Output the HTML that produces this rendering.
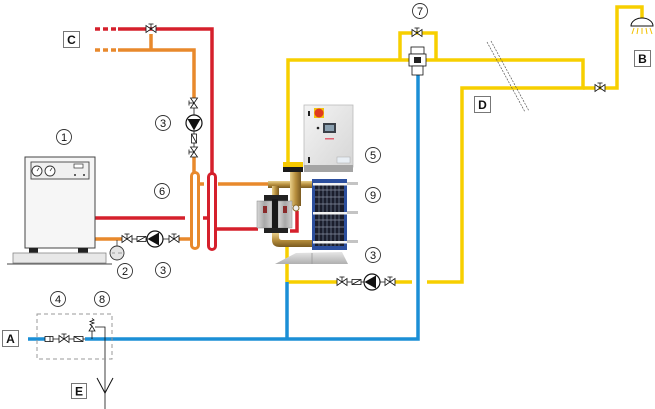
<!DOCTYPE html>
<html><head><meta charset="utf-8"><style>
html,body{margin:0;padding:0;background:#fff;}
svg{display:block;}
.lbl circle{fill:#fff;stroke:#333;stroke-width:0.9;}
.lbl text{font-family:"Liberation Sans",sans-serif;font-size:11px;fill:#111;text-anchor:middle;}
.box rect{fill:#fff;stroke:#777;stroke-width:1;}
.box text{font-family:"Liberation Sans",sans-serif;font-size:12px;font-weight:bold;fill:#111;text-anchor:middle;}
.v{fill:#fff;stroke:#111;stroke-width:0.8;}
</style></head><body>
<svg width="655" height="409" viewBox="0 0 655 409" xmlns="http://www.w3.org/2000/svg">
<defs>
<linearGradient id="gbox" x1="0" y1="0" x2="1" y2="1"><stop offset="0" stop-color="#f4f4f4"/><stop offset="1" stop-color="#d6d6d6"/></linearGradient>
<linearGradient id="gbrass" x1="0" y1="0" x2="0" y2="1"><stop offset="0" stop-color="#e8cf8a"/><stop offset="0.5" stop-color="#b8903e"/><stop offset="1" stop-color="#7a5a20"/></linearGradient>
<linearGradient id="gbrassv" x1="0" y1="0" x2="1" y2="0"><stop offset="0" stop-color="#e8cf8a"/><stop offset="0.5" stop-color="#b8903e"/><stop offset="1" stop-color="#7a5a20"/></linearGradient>
<linearGradient id="gpump" x1="0" y1="0" x2="1" y2="0"><stop offset="0" stop-color="#d8d8d8"/><stop offset="0.5" stop-color="#a8a8a8"/><stop offset="1" stop-color="#d0d0d0"/></linearGradient>
<linearGradient id="gstand" x1="0" y1="0" x2="0" y2="1"><stop offset="0" stop-color="#e6e6e6"/><stop offset="1" stop-color="#b0b0b0"/></linearGradient>
</defs>

<!-- RED top -->
<g stroke="#d5202c" stroke-width="3.5" fill="none">
<line x1="95" y1="29" x2="100" y2="29"/><line x1="103" y1="29" x2="108" y2="29"/><line x1="111" y1="29" x2="116" y2="29"/>
<polyline points="118,29 212,29 212,174"/>
<line x1="95" y1="218" x2="185" y2="218"/>
<line x1="203" y1="218" x2="208" y2="218"/>
<line x1="216" y1="229" x2="258" y2="229"/>
<polyline points="290,231 297,231 297,211"/>
</g>
<!-- ORANGE -->
<g stroke="#e8892c" stroke-width="3.5" fill="none">
<line x1="95" y1="50" x2="100" y2="50"/><line x1="103" y1="50" x2="108" y2="50"/><line x1="111" y1="50" x2="116" y2="50"/>
<polyline points="118,50 194,50 194,98"/>
<line x1="151" y1="50" x2="151" y2="34"/>
<line x1="194" y1="155" x2="194" y2="173"/>
<line x1="95" y1="239" x2="122" y2="239"/>
<line x1="179" y1="239" x2="191" y2="239"/>
<line x1="199" y1="184" x2="204" y2="184"/>
<line x1="218" y1="184" x2="268" y2="184"/>
</g>
<!-- separators -->
<rect x="191.5" y="172.5" width="7" height="76" rx="3.5" fill="#fff" stroke="#e8892c" stroke-width="3"/>
<rect x="208.5" y="173.5" width="7" height="76" rx="3.5" fill="#fff" stroke="#d5202c" stroke-width="3"/>

<!-- YELLOW -->
<g stroke="#f7cf00" stroke-width="3.5" fill="none">
<polyline points="288,162 288,60 583,60 583,88 462,88 462,282 427,282"/>
<polyline points="583,88 617,88 617,7 642,7 642,18"/>
<polyline points="400,60 400,33 436,33 436,60"/>
<line x1="287" y1="245" x2="287" y2="282"/>
<line x1="287" y1="282" x2="337" y2="282"/>
<line x1="395" y1="282" x2="412" y2="282"/>
</g>
<!-- BLUE -->
<g stroke="#1b8fd6" stroke-width="3.5" fill="none">
<polyline points="418,75 418,339 85,339"/>
<line x1="287" y1="282" x2="287" y2="339"/>
<line x1="28" y1="339" x2="45" y2="339"/>
</g>

<!-- break lines -->
<g stroke="#555" stroke-width="0.7" stroke-dasharray="2,1.2">
<line x1="487" y1="42" x2="525" y2="112"/><line x1="491" y1="41" x2="529" y2="111"/>
</g>

<!-- shower -->
<path d="M631,26 A11,8 0 0 1 653,26 Z" fill="#fff" stroke="#111" stroke-width="1"/>
<g stroke="#f2c200" stroke-width="1">
<line x1="634" y1="28" x2="632" y2="34"/><line x1="638" y1="28" x2="637" y2="34"/><line x1="642" y1="28" x2="642" y2="34"/><line x1="646" y1="28" x2="647" y2="34"/><line x1="650" y1="28" x2="652" y2="34"/>
</g>

<!-- boiler -->
<rect x="25" y="157" width="70" height="91" fill="#f6f6f6" stroke="#444" stroke-width="1"/>
<rect x="31" y="162" width="58" height="17" fill="#f0f0f0" stroke="#444" stroke-width="0.9"/>
<circle cx="37" cy="171" r="5" fill="#fff" stroke="#333" stroke-width="0.9"/>
<circle cx="50" cy="171" r="5" fill="#fff" stroke="#333" stroke-width="0.9"/>
<line x1="37" y1="171" x2="39" y2="168" stroke="#333" stroke-width="0.7"/>
<line x1="50" y1="171" x2="52" y2="168" stroke="#333" stroke-width="0.7"/>
<rect x="74" y="164" width="9" height="4" fill="#fff" stroke="#333" stroke-width="0.7"/>
<circle cx="75" cy="175" r="1" fill="#333"/><circle cx="84" cy="175" r="1" fill="#333"/>
<rect x="29" y="248" width="9" height="5" fill="#222"/><rect x="78" y="248" width="10" height="5" fill="#222"/>
<rect x="13" y="253" width="93" height="10" fill="#e8e8e8" stroke="#888" stroke-width="0.8"/>
<line x1="7" y1="264" x2="112" y2="264" stroke="#444" stroke-width="1"/>
<!-- expansion vessel -->
<line x1="117" y1="240" x2="117" y2="246" stroke="#333" stroke-width="0.8"/>
<circle cx="117" cy="253" r="7" fill="#e4e4e4" stroke="#333" stroke-width="0.9"/>
<line x1="112" y1="253" x2="115" y2="253" stroke="#888" stroke-width="0.8"/><line x1="118" y1="253" x2="122" y2="253" stroke="#888" stroke-width="0.8"/>

<!-- boiler pump line y239 -->
<line x1="122" y1="239" x2="179" y2="239" stroke="#111" stroke-width="0.8"/>
<g class="v">
<polygon points="122,235.5 122,242.5 127,239"/><polygon points="132,235.5 132,242.5 127,239"/>
<line x1="127" y1="239" x2="127" y2="234"/><line x1="124.5" y1="234" x2="129.5" y2="234"/>
<rect x="137" y="236.5" width="9" height="5"/><line x1="137" y1="241.5" x2="146" y2="236.5"/>
<circle cx="155" cy="239" r="8" stroke-width="1.2"/>
<polygon points="169,235.5 169,242.5 174,239"/><polygon points="179,235.5 179,242.5 174,239"/>
<line x1="174" y1="239" x2="174" y2="234"/><line x1="171.5" y1="234" x2="176.5" y2="234"/>
</g>
<polygon points="147.5,239 159,232.5 159,245.5" fill="#111"/>

<!-- vertical pump on x194 -->
<line x1="194" y1="98" x2="194" y2="155" stroke="#111" stroke-width="0.8"/>
<g class="v">
<polygon points="190.5,98 197.5,98 194,103"/><polygon points="190.5,108 197.5,108 194,103"/>
<line x1="194" y1="103" x2="189" y2="103"/><line x1="189" y1="100.5" x2="189" y2="105.5"/>
<circle cx="194" cy="123" r="8" stroke-width="1.2"/>
<rect x="191.5" y="134" width="5" height="9"/><line x1="191.5" y1="134" x2="196.5" y2="143"/>
<polygon points="190.5,147 197.5,147 194,152"/><polygon points="190.5,157 197.5,157 194,152"/>
<line x1="194" y1="152" x2="189" y2="152"/><line x1="189" y1="149.5" x2="189" y2="154.5"/>
</g>
<polygon points="194,130.5 187.5,119 200.5,119" fill="#111"/>

<!-- valve top at 151,29 -->
<g class="v">
<polygon points="146,25.5 146,32.5 151,29"/><polygon points="156,25.5 156,32.5 151,29"/>
<line x1="151" y1="29" x2="151" y2="24"/><line x1="148.5" y1="24" x2="153.5" y2="24"/>
</g>

<!-- bypass valve at 417,33 (7) -->
<g class="v">
<polygon points="412,29.5 412,36.5 417,33"/><polygon points="422,29.5 422,36.5 417,33"/>
<line x1="417" y1="33" x2="417" y2="28"/><line x1="414.5" y1="28" x2="419.5" y2="28"/>
</g>
<!-- mixer -->
<g class="v" stroke-width="0.9">
<rect x="411" y="47" width="13" height="7"/>
<rect x="409" y="54" width="17" height="12"/>
<rect x="412" y="66" width="11" height="9"/>
</g>
<rect x="414" y="57" width="7" height="6" fill="#222"/>

<!-- valve at 600,88 -->
<g class="v">
<polygon points="595,84.5 595,91.5 600,88"/><polygon points="605,84.5 605,91.5 600,88"/>
<line x1="600" y1="88" x2="600" y2="83"/><line x1="597.5" y1="83" x2="602.5" y2="83"/>
</g>

<!-- bottom pump y282 -->
<line x1="337" y1="282" x2="395" y2="282" stroke="#111" stroke-width="0.8"/>
<g class="v">
<polygon points="337,278.5 337,285.5 342,282"/><polygon points="347,278.5 347,285.5 342,282"/>
<line x1="342" y1="282" x2="342" y2="277"/><line x1="339.5" y1="277" x2="344.5" y2="277"/>
<rect x="352" y="279.5" width="9" height="5"/><line x1="352" y1="284.5" x2="361" y2="279.5"/>
<circle cx="372" cy="282" r="8" stroke-width="1.2"/>
<polygon points="385,278.5 385,285.5 390,282"/><polygon points="395,278.5 395,285.5 390,282"/>
<line x1="390" y1="282" x2="390" y2="277"/><line x1="387.5" y1="277" x2="392.5" y2="277"/>
</g>
<polygon points="364.5,282 376,275.5 376,288.5" fill="#111"/>

<!-- cold water inlet group -->
<line x1="45" y1="339" x2="85" y2="339" stroke="#111" stroke-width="0.8"/>
<g class="v">
<rect x="45" y="336.5" width="8" height="5"/><line x1="50" y1="336.5" x2="50" y2="341.5"/>
<polygon points="59,335.5 59,342.5 64,339"/><polygon points="69,335.5 69,342.5 64,339"/>
<line x1="64" y1="339" x2="64" y2="334"/><line x1="61.5" y1="334" x2="66.5" y2="334"/>
<rect x="74" y="336.5" width="9" height="5"/><line x1="74" y1="336.5" x2="83" y2="341.5"/>
</g>
<!-- safety valve 8 -->
<line x1="92" y1="339" x2="92" y2="331" stroke="#111" stroke-width="0.8"/>
<g class="v">
<polygon points="89,331 95,331 92,326"/>
<polyline points="92,326 90,324.5 94,323 90,321.5 94,320 92,318.5" fill="none"/>
</g>
<polyline points="95,327 105,327 105,409" fill="none" stroke="#111" stroke-width="0.8"/>
<polyline points="97,378 105,393 113,378" fill="none" stroke="#111" stroke-width="1"/>
<rect x="37" y="314" width="75" height="45" fill="none" stroke="#999" stroke-width="1" stroke-dasharray="4,3"/>

<!-- MODULE -->
<!-- control box -->
<rect x="304" y="105" width="49" height="62" fill="url(#gbox)" stroke="#bbb" stroke-width="0.8"/>
<rect x="304" y="165" width="49" height="7" fill="#a4a4a4"/>
<rect x="314" y="108" width="10" height="10" fill="#f1c40f"/>
<circle cx="319" cy="113" r="4.5" fill="#e03a1e"/>
<rect x="308" y="111" width="2" height="5" fill="#222"/>
<rect x="308" y="157" width="2" height="6" fill="#222"/>
<circle cx="318" cy="128" r="1.3" fill="#222"/>
<rect x="323" y="123" width="13" height="10" fill="#3a4048"/>
<rect x="325" y="125" width="9" height="6" fill="#8aa0b0"/>
<rect x="325" y="138" width="9" height="1.5" fill="#e06070"/>
<rect x="337" y="157" width="13" height="6" fill="#e8eef4" stroke="#aaa" stroke-width="0.5"/>
<!-- stand -->
<polygon points="275,264 296,253 342,252 348,264" fill="url(#gstand)"/>
<line x1="312" y1="253" x2="312" y2="264" stroke="#999" stroke-width="0.8"/>
<!-- heat exchanger -->
<rect x="312" y="179" width="35" height="71" fill="#2c4f9e"/>
<rect x="315" y="183" width="29" height="63" fill="#1b1e2c"/>
<g stroke="#5a6478" stroke-width="1">
<line x1="319" y1="183" x2="319" y2="246"/><line x1="323" y1="183" x2="323" y2="246"/><line x1="327" y1="183" x2="327" y2="246"/><line x1="331" y1="183" x2="331" y2="246"/><line x1="335" y1="183" x2="335" y2="246"/><line x1="339" y1="183" x2="339" y2="246"/>
</g>
<g stroke="#888ea0" stroke-width="0.8">
<line x1="315" y1="190" x2="344" y2="190"/><line x1="315" y1="197" x2="344" y2="197"/><line x1="315" y1="204" x2="344" y2="204"/><line x1="315" y1="220" x2="344" y2="220"/><line x1="315" y1="227" x2="344" y2="227"/><line x1="315" y1="234" x2="344" y2="234"/>
</g>
<g fill="#f2f2f2"><rect x="313" y="183" width="34" height="2.5"/><rect x="313" y="212" width="34" height="2.5"/><rect x="313" y="241" width="34" height="2.5"/></g>
<g fill="#c4c4c4"><rect x="347" y="182" width="11" height="3"/><rect x="347" y="211" width="11" height="3"/><rect x="347" y="240" width="11" height="3"/></g>
<!-- brass -->
<rect x="268" y="181" width="44" height="7" fill="url(#gbrass)"/>
<rect x="272" y="186" width="7" height="10" fill="url(#gbrassv)"/>
<rect x="290" y="172" width="11" height="34" fill="url(#gbrassv)"/>
<circle cx="296" cy="208" r="3" fill="#eee" stroke="#8a6a2a" stroke-width="1"/>
<rect x="283" y="162" width="20" height="6" fill="#f5c800"/>
<rect x="283" y="167" width="20" height="5" fill="#1a1a1a"/>
<!-- twin pump -->
<rect x="264" y="195" width="24" height="6" fill="#222"/>
<rect x="257" y="201" width="15" height="27" fill="url(#gpump)" stroke="#888" stroke-width="0.5"/>
<rect x="278" y="201" width="14" height="27" fill="url(#gpump)" stroke="#888" stroke-width="0.5"/>
<rect x="272" y="199" width="6" height="31" fill="#1a1a1a"/>
<rect x="263" y="206" width="4" height="7" fill="#8a2a2a"/>
<rect x="283" y="206" width="4" height="7" fill="#8a2a2a"/>
<rect x="264" y="228" width="24" height="5" fill="#222"/>
<path d="M272,233 L272,240 Q272,247 280,247 L312,247 L312,240 L282,240 Q279,240 279,237 L279,233 Z" fill="url(#gbrass)"/>

<!-- labels -->
<g class="lbl">
<circle cx="64" cy="137" r="7.5"/><text x="64" y="141">1</text>
<circle cx="125" cy="271" r="7.5"/><text x="125" y="275">2</text>
<circle cx="163" cy="270" r="7.5"/><text x="163" y="274">3</text>
<circle cx="163" cy="123" r="7.5"/><text x="163" y="127">3</text>
<circle cx="162" cy="191" r="7.5"/><text x="162" y="195">6</text>
<circle cx="373" cy="155" r="7.5"/><text x="373" y="159">5</text>
<circle cx="373" cy="195" r="7.5"/><text x="373" y="199">9</text>
<circle cx="373" cy="255" r="7.5"/><text x="373" y="259">3</text>
<circle cx="420" cy="11" r="7.5"/><text x="420" y="15">7</text>
<circle cx="58" cy="299" r="7.5"/><text x="58" y="303">4</text>
<circle cx="102" cy="299" r="7.5"/><text x="102" y="303">8</text>
</g>
<g class="box">
<rect x="63.5" y="31.5" width="16" height="16"/><text x="71.5" y="44">C</text>
<rect x="634.5" y="50.5" width="16" height="16"/><text x="642.5" y="63">B</text>
<rect x="474.5" y="96.5" width="16" height="16"/><text x="482.5" y="109">D</text>
<rect x="2.5" y="330.5" width="16" height="16"/><text x="10.5" y="343">A</text>
<rect x="71.5" y="383.5" width="15" height="15"/><text x="79" y="395.5">E</text>
</g>
</svg>
</body></html>
